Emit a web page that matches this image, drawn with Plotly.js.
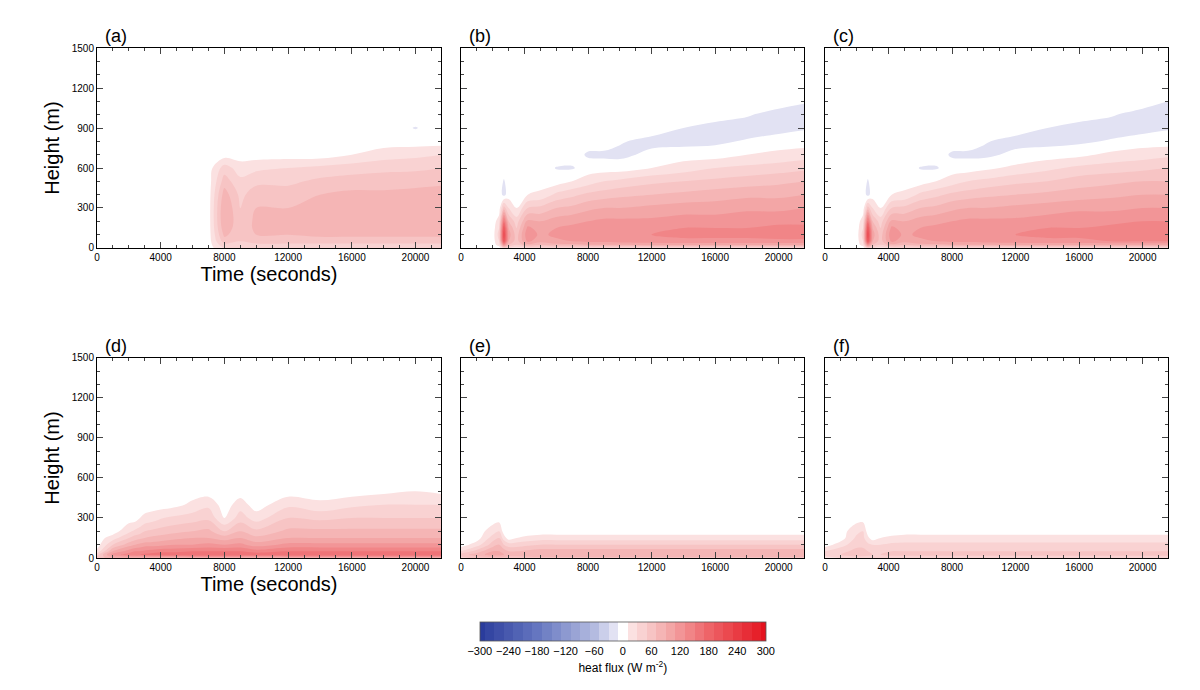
<!DOCTYPE html>
<html>
<head>
<meta charset="utf-8">
<script src="https://cdn.plot.ly/plotly-3.0.1.min.js"></script>
<style>body{margin:0;background:#fff}#graphDiv{width:1200px;height:690px}</style>
</head>
<body>
<div id="graphDiv"></div>
<script>
// grid
const times = [0,1000,2000,2400,2700,3000,3500,4200,5000,6000,7000,8000,9000,10000,12000,14000,16000,18000,20000,21600];
const heights = [0,25,50,100,150,200,300,400,500,600,700,800,900,1000,1100,1200];
const Z = [0,0,0,0,0,0,0,0,0,0,0,0,0,0,0,0];

// heat flux profiles (W m-2), one per time, bottom to top
const fluxA = [Z,Z,Z,Z,Z,Z,Z,Z,Z,Z,Z,
  [30,45,60,75,85,90,90,80,60,40,0,0,0,0,0,0],
  [30,40,50,55,55,55,50,45,35,20,0,0,0,0,0,0],
  [30,45,60,70,75,75,70,60,45,25,0,0,0,0,0,0],
  [30,45,60,70,75,75,70,60,45,30,0,0,0,0,0,0],
  [30,45,60,75,80,80,80,70,55,35,0,0,0,0,0,0],
  [30,45,60,75,80,85,80,75,60,40,10,0,0,0,0,0],
  [30,45,60,75,80,85,85,75,60,45,20,0,0,0,0,0],
  [30,45,60,75,85,85,80,75,65,45,25,0,-11,0,0,0],
  [30,45,60,75,85,90,90,80,65,50,30,0,0,-11,0,0]];

const fluxB = [Z,Z,Z,
  [0,20,30,40,30,20,0,0,0,0,0,0,0,0,0,0],
  [40,130,200,220,200,160,60,-16,-12,0,0,0,0,0,0,0],
  [30,70,90,100,90,70,30,0,0,0,0,0,0,0,0,0],
  [20,50,60,60,50,40,10,0,0,0,0,0,0,0,0,0],
  [30,85,115,125,115,95,50,10,0,0,0,0,0,0,0,0],
  [30,75,95,105,100,90,55,15,0,0,0,0,0,0,0,0],
  [30,85,105,115,110,100,70,35,0,-11,0,0,0,0,0,0],
  [30,85,110,120,115,105,75,45,10,-12,0,0,0,0,0,0],
  [30,90,115,125,120,110,85,55,20,0,-13,0,0,0,0,0],
  [30,90,115,125,120,115,90,60,30,0,-14,0,0,0,0,0],
  [30,90,120,130,125,115,90,65,35,0,-15,-8,0,0,0,0],
  [30,95,120,130,125,115,95,70,45,10,-5,-16,0,0,0,0],
  [30,95,125,135,130,120,100,75,50,20,0,-17,-10,0,0,0],
  [30,95,125,135,130,120,100,80,55,30,0,-14,-18,0,0,0],
  [30,95,125,135,130,125,105,85,60,35,10,-8,-19,-8,0,0],
  [30,95,125,140,135,125,105,85,65,40,15,0,-18,-18,0,0],
  [30,95,125,140,135,125,110,90,70,45,20,0,-12,-19,-8,0]];

const fluxC = [Z,Z,Z,
  [0,20,30,40,30,20,0,0,0,0,0,0,0,0,0,0],
  [40,130,200,220,200,160,60,-16,-12,0,0,0,0,0,0,0],
  [30,70,90,100,90,70,30,0,0,0,0,0,0,0,0,0],
  [20,50,60,60,50,40,10,0,0,0,0,0,0,0,0,0],
  [30,85,115,125,115,95,50,10,0,0,0,0,0,0,0,0],
  [30,75,95,105,100,90,55,15,0,0,0,0,0,0,0,0],
  [30,85,105,115,110,100,70,35,0,-11,0,0,0,0,0,0],
  [30,85,110,120,115,105,75,45,10,-12,0,0,0,0,0,0],
  [30,90,115,125,120,110,85,55,20,0,-13,0,0,0,0,0],
  [30,90,115,125,120,115,90,60,30,0,-14,0,0,0,0,0],
  [30,90,120,130,125,115,90,65,35,5,-15,-8,0,0,0,0],
  [30,95,120,130,125,115,95,70,45,15,-5,-17,0,0,0,0],
  [30,95,125,135,130,120,100,75,50,25,0,-17,-10,0,0,0],
  [30,95,125,135,130,125,105,80,60,35,5,-14,-18,0,0,0],
  [30,95,130,140,135,125,105,85,65,40,15,-8,-19,-8,0,0],
  [30,95,130,145,140,130,110,90,70,45,20,0,-18,-18,0,0],
  [30,95,130,145,140,130,110,90,70,50,25,0,-12,-19,-10,0]];

const fluxD = [
  [60,40,15,0,0,0,0,0,0,0,0,0,0,0,0,0],
  [80,120,90,50,20,0,0,0,0,0,0,0,0,0,0,0],
  [80,140,120,80,50,25,0,0,0,0,0,0,0,0,0,0],
  [80,150,130,90,60,35,0,0,0,0,0,0,0,0,0,0],
  [80,150,130,95,65,40,10,0,0,0,0,0,0,0,0,0],
  [80,155,135,100,70,50,15,0,0,0,0,0,0,0,0,0],
  [80,160,140,100,75,55,20,0,0,0,0,0,0,0,0,0],
  [80,165,145,105,80,60,30,0,0,0,0,0,0,0,0,0],
  [80,165,145,110,85,65,35,5,0,0,0,0,0,0,0,0],
  [80,170,150,110,90,70,40,15,0,0,0,0,0,0,0,0],
  [80,170,150,115,90,75,45,25,0,0,0,0,0,0,0,0],
  [80,170,150,110,80,50,10,0,0,0,0,0,0,0,0,0],
  [80,170,150,115,90,70,40,20,0,0,0,0,0,0,0,0],
  [80,165,140,100,75,55,20,0,0,0,0,0,0,0,0,0],
  [80,170,150,115,90,75,50,25,0,0,0,0,0,0,0,0],
  [80,170,150,115,90,75,45,15,0,0,0,0,0,0,0,0],
  [80,170,150,115,90,75,50,25,0,0,0,0,0,0,0,0],
  [80,170,150,115,90,75,50,30,5,0,0,0,0,0,0,0],
  [80,170,150,115,90,75,50,30,10,0,0,0,0,0,0,0],
  [80,170,150,115,90,75,50,30,5,0,0,0,0,0,0,0]];

const fluxE = [
  [40,60,30,0,0,0,0,0,0,0,0,0,0,0,0,0],
  [60,80,60,20,0,0,0,0,0,0,0,0,0,0,0,0],
  [60,100,90,60,40,20,0,0,0,0,0,0,0,0,0,0],
  [60,100,90,70,50,30,0,0,0,0,0,0,0,0,0,0],
  [60,90,80,50,20,0,0,0,0,0,0,0,0,0,0,0],
  [60,80,70,40,0,0,0,0,0,0,0,0,0,0,0,0],
  [60,80,70,40,10,0,0,0,0,0,0,0,0,0,0,0],
  [60,85,75,45,15,0,0,0,0,0,0,0,0,0,0,0],
  [60,90,80,50,20,0,0,0,0,0,0,0,0,0,0,0],
  [60,90,80,50,20,0,0,0,0,0,0,0,0,0,0,0],
  [60,90,80,50,20,0,0,0,0,0,0,0,0,0,0,0],
  [60,90,80,50,20,0,0,0,0,0,0,0,0,0,0,0],
  [60,90,80,50,20,0,0,0,0,0,0,0,0,0,0,0],
  [60,90,80,50,20,0,0,0,0,0,0,0,0,0,0,0],
  [60,90,80,50,20,0,0,0,0,0,0,0,0,0,0,0],
  [60,90,80,50,20,0,0,0,0,0,0,0,0,0,0,0],
  [60,90,80,50,20,0,0,0,0,0,0,0,0,0,0,0],
  [60,90,80,50,20,0,0,0,0,0,0,0,0,0,0,0],
  [60,90,80,50,20,0,0,0,0,0,0,0,0,0,0,0],
  [60,90,80,50,20,0,0,0,0,0,0,0,0,0,0,0]];

const fluxF = [
  [20,40,30,0,0,0,0,0,0,0,0,0,0,0,0,0],
  [30,50,45,20,0,0,0,0,0,0,0,0,0,0,0,0],
  [40,60,55,45,35,25,0,0,0,0,0,0,0,0,0,0],
  [40,60,55,45,35,30,0,0,0,0,0,0,0,0,0,0],
  [40,55,50,35,15,0,0,0,0,0,0,0,0,0,0,0],
  [40,50,45,30,0,0,0,0,0,0,0,0,0,0,0,0],
  [40,50,45,30,10,0,0,0,0,0,0,0,0,0,0,0],
  [40,55,50,35,15,0,0,0,0,0,0,0,0,0,0,0],
  [40,55,50,35,20,0,0,0,0,0,0,0,0,0,0,0],
  [40,55,50,35,20,0,0,0,0,0,0,0,0,0,0,0],
  [40,55,50,35,20,0,0,0,0,0,0,0,0,0,0,0],
  [40,55,50,35,20,0,0,0,0,0,0,0,0,0,0,0],
  [40,55,50,35,20,0,0,0,0,0,0,0,0,0,0,0],
  [40,55,50,35,20,0,0,0,0,0,0,0,0,0,0,0],
  [40,55,50,35,20,0,0,0,0,0,0,0,0,0,0,0],
  [40,55,50,35,20,0,0,0,0,0,0,0,0,0,0,0],
  [40,55,50,35,20,0,0,0,0,0,0,0,0,0,0,0],
  [40,55,50,35,20,0,0,0,0,0,0,0,0,0,0,0],
  [40,55,50,35,20,0,0,0,0,0,0,0,0,0,0,0],
  [40,55,50,35,20,0,0,0,0,0,0,0,0,0,0,0]];

const panelLabels = ['(a)','(b)','(c)','(d)','(e)','(f)'];
const panelFlux = [fluxA, fluxB, fluxC, fluxD, fluxE, fluxF];
const cbTicks = [-300,-240,-180,-120,-60,0,60,120,180,240,300];
const xTicks = [0,4000,8000,12000,16000,20000];
const xTickText = ['0','4000','8000','12000','16000','20000'];
const yTicks = [0,300,600,900,1200,1500];

const xDomains = [[0.0808,0.3675],[0.3842,0.67],[0.6875,0.9733]];
const yDomains = [[0.6406,0.9304],[0.1913,0.4812]];

const heatScale = [
  [0,'#2a3c9c'],[0.2,'#6576c0'],[0.4,'#b4bbe0'],[0.47,'#e4e4f4'],[0.5,'#ffffff'],
  [0.53,'#fbe2e2'],[0.65,'#f4aeae'],[0.8,'#ee6468'],[1,'#e4121e']];

// z rows are heights, columns are times
function toRows(profiles){
  return heights.map((h, j) => profiles.map(p => p[j]));
}

var traces = [];
var layout = {
  width: 1200, height: 690,
  margin: {l:0, r:0, t:0, b:0},
  paper_bgcolor: '#fff', plot_bgcolor: '#fff',
  font: {family: 'Liberation Sans, Arial, sans-serif', color: '#000', size: 10},
  annotations: [], showlegend: false
};

panelFlux.forEach((flux, i) => {
  var col = i % 3, row = Math.floor(i / 3);
  var n = i === 0 ? '' : String(i + 1);
  traces.push({
    type: 'contour', x: times, y: heights, z: toRows(flux),
    xaxis: 'x' + n, yaxis: 'y' + n,
    zmin: -300, zmax: 300, colorscale: heatScale,
    contours: {start: -290, end: 290, size: 20, coloring: 'fill', showlines: false},
    line: {width: 0},
    showscale: i === 0,
    colorbar: {
      orientation: 'h', x: 0.519, xanchor: 'center', y: 0.113, yanchor: 'top',
      len: 0.255, thickness: 19, outlinewidth: 0.8, outlinecolor: '#555',
      tickvals: cbTicks, ticks: '', tickfont: {size: 11},
      title: {text: 'heat flux (W m<sup>-2</sup>)', side: 'bottom', font: {size: 12}}
    },
    hoverinfo: 'skip'
  });
  layout['xaxis' + n] = {
    domain: xDomains[col], anchor: 'y' + n, range: [0, 21600],
    tickvals: xTicks, ticktext: xTickText, ticks: 'inside', ticklen: 6,
    minor: {dtick: 1000, ticks: 'inside', ticklen: 3},
    showline: true, linecolor: '#000', mirror: 'ticks', showgrid: false, zeroline: false,
    title: col === 0 ? {text: 'Time (seconds)', font: {size: 20}, standoff: 4} : {text: ''}
  };
  layout['yaxis' + n] = {
    domain: yDomains[row], anchor: 'x' + n, range: [0, 1500],
    tickvals: yTicks, ticks: 'inside', ticklen: 6,
    minor: {dtick: 100, ticks: 'inside', ticklen: 3},
    showticklabels: col === 0,
    showline: true, linecolor: '#000', mirror: 'ticks', showgrid: false, zeroline: false,
    title: col === 0 ? {text: 'Height (m)', font: {size: 20}, standoff: 6} : {text: ''}
  };
  layout.annotations.push({
    text: panelLabels[i], xref: 'paper', yref: 'paper',
    x: xDomains[col][0] + 0.005, y: yDomains[row][1], xanchor: 'left', yanchor: 'bottom',
    showarrow: false, font: {size: 18}
  });
});

Plotly.newPlot('graphDiv', traces, layout, {staticPlot: true});
</script>
</body>
</html>
